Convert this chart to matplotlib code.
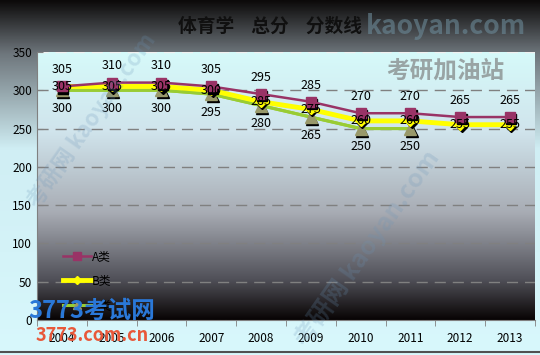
import numpy as np
import matplotlib
matplotlib.use('Agg')
import matplotlib.pyplot as plt
from matplotlib.colors import LinearSegmentedColormap
from matplotlib import transforms

plt.rcParams['font.family'] = ['Noto Sans CJK SC', 'DejaVu Sans']

# data
years = ['2004', '2005', '2006', '2007', '2008', '2009', '2010', '2011', '2012', '2013']
a_vals = [305, 310, 310, 305, 295, 285, 270, 270, 265, 265]
b_vals = [305, 305, 305, 300, 285, 275, 260, 260, 255, 255]
c_vals = [300, 300, 300, 295, 280, 265, 250, 250, np.nan, np.nan]
series_names = ['A类', 'B类', 'C类']

fig = plt.figure(figsize=(5.4, 3.55), dpi=100)

# outer background gradient
bg = fig.add_axes([0, 0, 1, 1], zorder=-10)
bg_cmap = LinearSegmentedColormap.from_list(
    'outer', [(0, '#0c0a0a'), (0.15, '#6e767c'), (0.42, '#d0eef4'), (1, '#d8f8fc')])
bg.imshow(np.linspace(0, 1, 256).reshape(-1, 1), aspect='auto', cmap=bg_cmap,
          extent=[0, 1, 0, 1], origin='upper')
bg.plot([0, 1], [0.008, 0.008], color='#505050', lw=1.5)
bg.set_xlim(0, 1)
bg.set_ylim(0, 1)
bg.axis('off')

ax = fig.add_axes([0.0685, 0.0986, 0.922, 0.755])
x = np.arange(len(years))

# plot-area gradient
pa_cmap = LinearSegmentedColormap.from_list(
    'plot', [(0, '#d6fafa'), (0.3, '#d0e4ec'), (0.6, '#a8acb4'), (0.85, '#505058'), (1, '#080404')])
ax.imshow(np.linspace(0, 1, 256).reshape(-1, 1), aspect='auto', cmap=pa_cmap,
          extent=[-0.5, len(years) - 0.5, 0, 350], origin='upper', zorder=0)

for yv in range(50, 351, 50):
    ax.axhline(yv, color='#f0f0f0' if yv == 350 else '#808080', lw=1,
               dashes=(8, 5), zorder=1)

def shadow(dx, dy):
    return ax.transData + transforms.ScaledTranslation(dx / 72, dy / 72, fig.dpi_scale_trans)

ax.plot(x, c_vals, color='#9c3', lw=2.2, zorder=3)
ax.plot(x, c_vals, ls='none', marker='^', ms=8, color='black', zorder=3.5, transform=shadow(1, -1.5))
lc, = ax.plot(x, c_vals, color='#9c3', lw=2.2, marker='^', ms=8, mfc='#99996a', mec='#99996a',
              zorder=4, label=series_names[2])

lb, = ax.plot(x, b_vals, color='#ffff00', lw=3.5, marker='D', ms=5, mfc='#ffff00', mec='#ffff00',
              zorder=5, label=series_names[1])
ax.plot(x, b_vals, ls='none', marker='D', ms=5, color='black', zorder=4.8, transform=shadow(1, -1.5))

ax.plot(x, a_vals, ls='none', marker='s', ms=7, color='black', zorder=5.8, transform=shadow(1, -1.5))
la, = ax.plot(x, a_vals, color='#993366', lw=1.8, marker='s', ms=7, mfc='#993366', mec='#993366',
              zorder=6, label=series_names[0])

# data labels
for i in range(len(years)):
    ax.annotate(str(a_vals[i]), (x[i], a_vals[i]), xytext=(0, 12), textcoords='offset points',
                ha='center', va='center', fontsize=9, zorder=8)
    ax.annotate(str(b_vals[i]), (x[i], b_vals[i]), xytext=(0, 0), textcoords='offset points',
                ha='center', va='center', fontsize=9, zorder=8)
    if not np.isnan(c_vals[i]):
        ax.annotate(str(int(c_vals[i])), (x[i], c_vals[i]), xytext=(0, -13), textcoords='offset points',
                    ha='center', va='center', fontsize=9, zorder=8)

ax.set_xlim(-0.5, len(years) - 0.5)
ax.set_ylim(0, 350)
ax.set_yticks(range(0, 351, 50))
ax.set_xticks(x)
ax.set_xticklabels(years)
ax.set_xticks(np.arange(-0.5, len(years), 1), minor=True)
ax.tick_params(axis='x', which='major', length=0, labelsize=8.5, pad=9)
ax.tick_params(axis='x', which='minor', length=4, color='#808080', direction='out')
ax.tick_params(axis='y', length=4, color='#808080', direction='in', labelsize=8.5)
for s in ['top', 'right']:
    ax.spines[s].set_visible(False)
for s in ['left', 'bottom']:
    ax.spines[s].set_color('#808080')

leg = ax.legend(handles=[la, lb, lc], loc='upper left', bbox_to_anchor=(0.03, 0.3),
                frameon=False, fontsize=8.5, handlelength=2.4, labelspacing=0.95,
                handletextpad=0.1, markerscale=0.8)

fig.text(0.5, 0.925, '体育学    总分    分数线', ha='center', va='center',
         fontsize=13.5, fontweight='bold', color='#101010')

# watermarks
fig.text(0.825, 0.925, 'kaoyan.com', ha='center', va='center', fontsize=19,
         color='#6c8a98', alpha=0.6, fontweight='bold', zorder=10)
fig.text(0.825, 0.8, '考研加油站', ha='center', va='center', fontsize=17,
         color='#8a9090', alpha=0.8, fontweight='bold', zorder=10)
fig.text(0.17, 0.66, '考研网 kaoyan.com', ha='center', va='center', fontsize=16,
         color='#6a94b8', alpha=0.22, rotation=55, fontweight='bold', zorder=10)
fig.text(0.68, 0.3, '考研网 kaoyan.com', ha='center', va='center', fontsize=18,
         color='#6a94b8', alpha=0.22, rotation=55, fontweight='bold', zorder=10)
fig.text(0.17, 0.125, '3773考试网', ha='center', va='center', fontsize=17,
         color='#2a78d8', fontweight='bold', style='italic', zorder=10)
fig.text(0.17, 0.055, '3773.com.cn', ha='center', va='center', fontsize=13,
         color='#e8583a', fontweight='bold', zorder=10)

fig.savefig('out.png', dpi=100)
